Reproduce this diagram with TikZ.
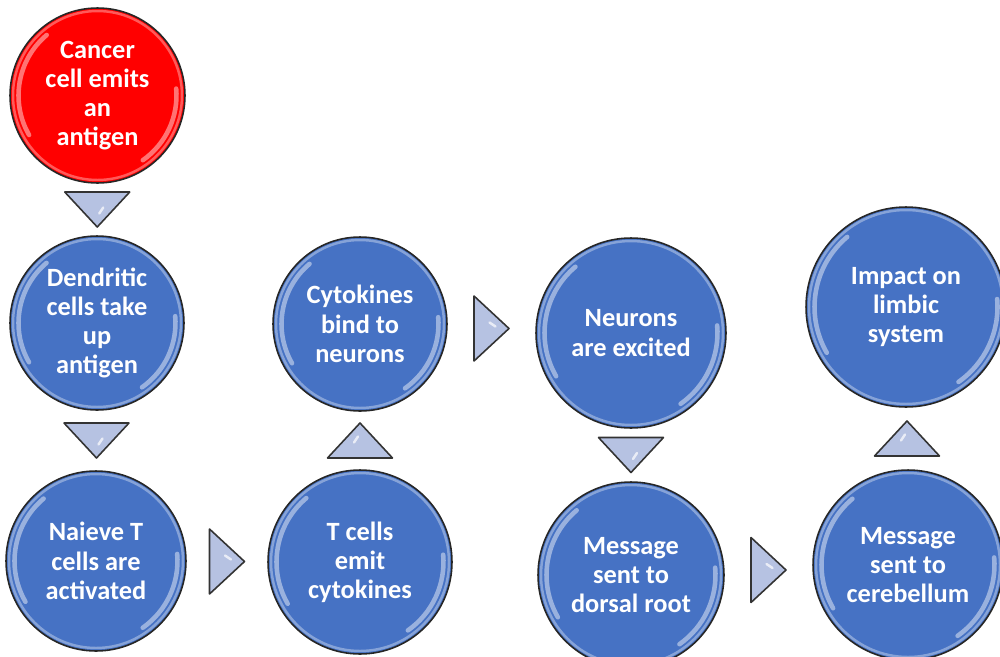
\documentclass[tikz,border=0pt]{standalone}
\usepackage{fontspec}
\setmainfont{Carlito}
\usepackage{xcolor}
\usetikzlibrary{calc}

\definecolor{cellblue}{RGB}{70,114,196}
\definecolor{cellred}{RGB}{255,0,0}
\definecolor{trifill}{RGB}{182,194,226}
\newcommand{\cellfont}{\fontsize{15}{16.6}\selectfont\bfseries}

\tikzset{
	cell/.style={circle, draw=black!85, line width=0.9pt, fill=cellblue, text=white,
		font=\cellfont, align=center, inner sep=0pt, minimum size=2*#1 cm,
		path picture={
			\draw[white, opacity=0.35, line width=1.4pt] (path picture bounding box.center) circle[radius=#1cm-0.06cm];
			\draw[white, opacity=0.45, line width=2.6pt, line cap=round]
				([shift={(210:#1cm-0.17cm)}]path picture bounding box.center) arc[start angle=210, end angle=130, radius=#1cm-0.17cm];
			\draw[white, opacity=0.45, line width=2.6pt, line cap=round]
				([shift={(-55:#1cm-0.17cm)}]path picture bounding box.center) arc[start angle=-55, end angle=5, radius=#1cm-0.17cm];
		}},
	redcell/.style={cell=#1, fill=cellred},
	pics/flowtri/.style={code={
		\draw[fill=trifill, draw=black!80, line width=0.9pt, line join=round] (-32.5,-17.5) -- (32.5,-17.5) -- (0,17.5) -- cycle;
		\draw[white, opacity=0.7, line width=1.4pt, line cap=round] (6,-2) -- (2,4);
	}},
}

\begin{document}
\begin{tikzpicture}[x=0.02cm, y=-0.02cm]
		\useasboundingbox (0,0) rectangle (1000,656);
		% cells
		\node[redcell=1.75] (cancer) at (97.5,95.5) {Cancer\\cell emits\\an\\antigen};
		\node[cell=1.74] (dendritic) at (97,323) {Dendritic\\cells take\\up\\antigen};
		\node[cell=1.8] (naieve) at (96,561) {Naieve T\\cells are\\activated};
		\node[cell=1.84] (tcells) at (360,562) {T cells\\emit\\cytokines};
		\node[cell=1.74] (cytokines) at (360,324) {Cytokines\\bind to\\neurons};
		\node[cell=1.9] (neurons) at (631,333) {Neurons\\are excited};
		\node[cell=1.86] (dorsal) at (631,575) {Message\\sent to\\dorsal root};
		\node[cell=1.9] (cerebellum) at (908,565) {Message\\sent to\\cerebellum};
		\node[cell=2.0] (impact) at (906,307) {Impact on\\limbic\\system};
		% connectors
		\pic at ($(cancer.south)!0.5!(dendritic.north)$) {flowtri};
		\pic at ($(dendritic.south)!0.5!(naieve.north)$) {flowtri};
		\pic[rotate=90] at ($(naieve.east)!0.5!(tcells.west)$) {flowtri};
		\pic[rotate=180] at ($(tcells.north)!0.5!(cytokines.south)$) {flowtri};
		\pic[rotate=90] at ($(cytokines.east)!0.5!(neurons.west)$) {flowtri};
		\pic at ($(neurons.south)!0.5!(dorsal.north)$) {flowtri};
		\pic[rotate=90] at ($(dorsal.east)!0.5!(cerebellum.west)$) {flowtri};
		\pic[rotate=180] at ($(cerebellum.north)!0.5!(impact.south)$) {flowtri};
	\end{tikzpicture}
\end{document}
